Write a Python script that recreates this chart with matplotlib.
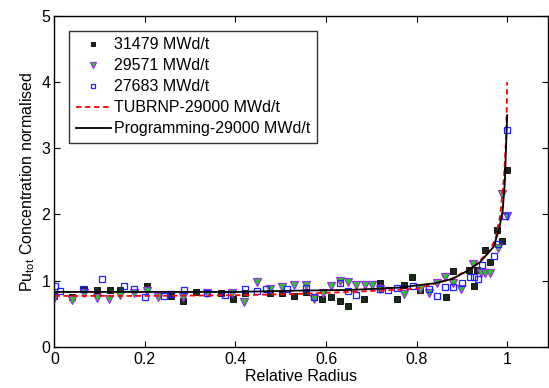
import matplotlib
matplotlib.use("Agg")
import matplotlib.pyplot as plt

plt.rcParams["font.family"] = ["Liberation Sans", "DejaVu Sans"]
plt.rcParams["mathtext.fontset"] = "custom"
plt.rcParams["mathtext.rm"] = "Liberation Sans"
plt.rcParams["mathtext.it"] = "Liberation Sans"

# measured points
x_31479 = [0.0, 0.038, 0.066, 0.094, 0.122, 0.145, 0.204, 0.257, 0.284, 0.313, 0.367, 0.394,
           0.421, 0.477, 0.503, 0.53, 0.556, 0.591, 0.611, 0.63, 0.648, 0.683, 0.719, 0.756,
           0.773, 0.79, 0.808, 0.864, 0.881, 0.915, 0.926, 0.934, 0.952, 0.962, 0.978, 0.989, 0.999]
y_31479 = [0.77, 0.76, 0.88, 0.86, 0.86, 0.86, 0.92, 0.77, 0.70, 0.83, 0.81, 0.72,
           0.82, 0.82, 0.81, 0.77, 0.83, 0.73, 0.76, 0.69, 0.62, 0.73, 0.96, 0.72,
           0.93, 1.06, 0.86, 0.75, 1.14, 1.16, 0.92, 1.16, 1.47, 1.28, 1.77, 1.60, 2.67]

x_29571 = [0.0, 0.038, 0.066, 0.094, 0.12, 0.145, 0.175, 0.204, 0.23, 0.284, 0.337, 0.392,
           0.419, 0.447, 0.477, 0.503, 0.53, 0.556, 0.574, 0.593, 0.611, 0.63, 0.648, 0.667,
           0.685, 0.702, 0.719, 0.772, 0.808, 0.827, 0.845, 0.862, 0.881, 0.899, 0.925, 0.943,
           0.952, 0.962, 0.979, 0.989, 0.999]
y_29571 = [0.74, 0.71, 0.82, 0.74, 0.72, 0.78, 0.82, 0.84, 0.76, 0.76, 0.82, 0.81,
           0.68, 0.98, 0.87, 0.91, 0.93, 0.93, 0.73, 0.82, 0.92, 1.0, 0.98, 0.93,
           0.93, 0.93, 0.87, 0.80, 0.88, 0.82, 0.96, 1.05, 0.97, 0.87, 1.25, 1.11,
           1.12, 1.12, 1.49, 2.31, 1.97]

x_27683 = [0.002, 0.013, 0.063, 0.106, 0.153, 0.175, 0.2, 0.243, 0.257, 0.287, 0.337, 0.377,
           0.421, 0.447, 0.468, 0.514, 0.556, 0.574, 0.63, 0.648, 0.667, 0.719, 0.737, 0.756,
           0.792, 0.827, 0.845, 0.862, 0.881, 0.901, 0.917, 0.926, 0.936, 0.945, 0.972, 0.979,
           0.995, 1.0]
y_27683 = [0.92, 0.84, 0.87, 1.02, 0.92, 0.87, 0.76, 0.77, 0.80, 0.86, 0.82, 0.78,
           0.88, 0.85, 0.88, 0.87, 0.89, 0.76, 0.97, 0.85, 0.78, 0.87, 0.86, 0.89,
           0.92, 0.88, 0.77, 0.91, 0.91, 0.97, 1.05, 1.05, 1.03, 1.24, 1.37, 1.55,
           1.97, 3.28]

# model curves
x_tubrnp = [0, 0.2, 0.4, 0.54, 0.65, 0.75, 0.8, 0.875, 0.926, 0.963, 0.975, 0.985, 0.993, 0.998, 1.0]
y_tubrnp = [0.77, 0.77, 0.78, 0.80, 0.83, 0.86, 0.88, 1.02, 1.21, 1.46, 1.66, 2.0, 2.57, 3.2, 4.0]

x_prog = [0, 0.2, 0.4, 0.54, 0.65, 0.72, 0.77, 0.8, 0.84, 0.88, 0.91, 0.94, 0.97, 0.982, 0.99, 0.995, 1.0]
y_prog = [0.83, 0.83, 0.83, 0.85, 0.86, 0.88, 0.90, 0.93, 0.96, 1.03, 1.14, 1.28, 1.51, 1.77, 2.05, 2.5, 3.5]

fig = plt.figure(figsize=(5.49, 3.88), dpi=100)
ax = fig.add_axes([0.099, 0.106, 0.899, 0.853])

ax.plot(x_31479, y_31479, "s", color="black", mfc="#1a2a1a", ms=3.8, mew=0.6, ls="none",
        label="31479 MWd/t")
ax.plot(x_29571, y_29571, "v", mfc="#22cc22", mec="#9933dd", ms=5.5, mew=0.9, ls="none",
        label="29571 MWd/t")
ax.plot(x_27683, y_27683, "s", mfc="none", mec="#1f1fff", ms=4, mew=0.9, ls="none",
        label="27683 MWd/t")
ax.plot(x_tubrnp, y_tubrnp, "--", color="red", lw=1.3, dashes=(3, 2),
        label="TUBRNP-29000 MWd/t")
ax.plot(x_prog, y_prog, "-", color="black", lw=1.3, label="Programming-29000 MWd/t")

ax.set_xlim(0, 1.09)
ax.set_ylim(0, 5)
ax.set_xticks([0, 0.2, 0.4, 0.6, 0.8, 1])
ax.set_xticklabels(["0", "0.2", "0.4", "0.6", "0.8", "1"])
ax.set_yticks([0, 1, 2, 3, 4, 5])
ax.tick_params(direction="in", top=True, right=True, length=4, labelsize=11.5)
ax.tick_params(axis="x", pad=4)
ax.tick_params(axis="y", pad=3)
for s in ax.spines.values():
    s.set_linewidth(1.0)

ax.set_xlabel("Relative Radius", fontsize=11.5, labelpad=1)
ax.set_ylabel("Pu$_{tot}$ Concentration normalised", fontsize=11.5, labelpad=3)

leg = ax.legend(loc="upper left", bbox_to_anchor=(0.030, 0.955), fontsize=11.5,
                frameon=True, fancybox=False, edgecolor="black", borderpad=0.4,
                handlelength=2.2, handletextpad=0.2, labelspacing=0.38, borderaxespad=0,
                markerscale=0.75)
leg.get_frame().set_linewidth(1.0)

fig.savefig("out.png", dpi=100)
